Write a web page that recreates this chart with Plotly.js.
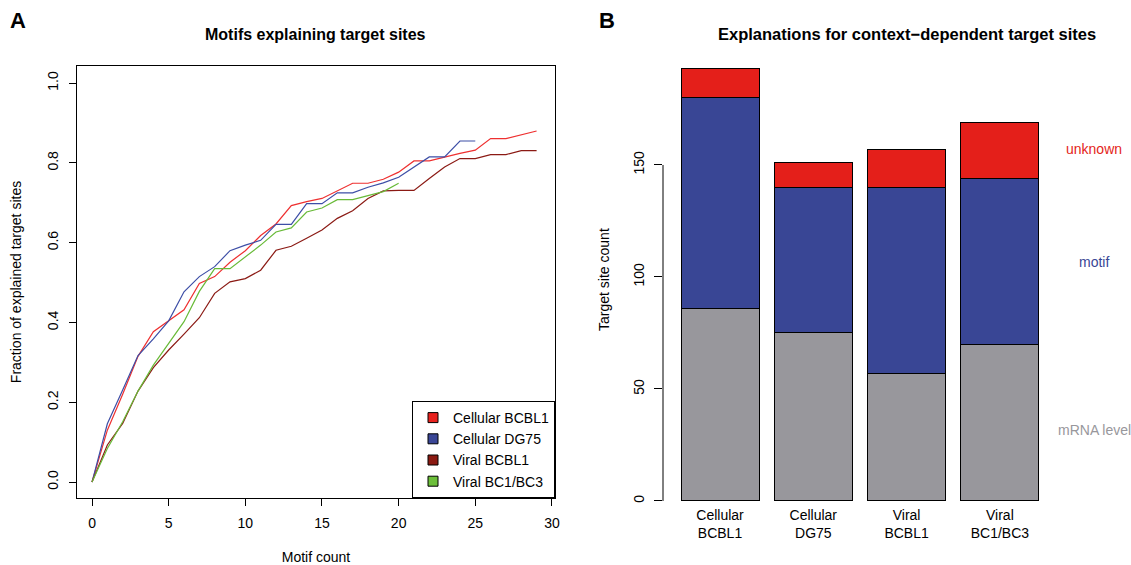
<!DOCTYPE html>
<html>
<head>
<meta charset="utf-8">
<script src="https://cdn.plot.ly/plotly-3.0.1.min.js"></script>
<style>html,body{margin:0;padding:0;background:#fff;}#chart{width:1131px;height:565px;}</style>
</head>
<body>
<div id="chart"></div>
<script>
// ---- Panel A data ----
const motifCountRed = [0,1,2,3,4,5,6,7,8,9,10,11,12,13,14,15,16,17,18,19,20,21,22,23,24,25,26,27,28,29];
const cellularBCBL1 = [0,0.13,0.22,0.315,0.377,0.404,0.432,0.498,0.515,0.551,0.58,0.618,0.647,0.693,0.703,0.711,0.73,0.749,0.749,0.759,0.777,0.805,0.805,0.815,0.824,0.832,0.861,0.861,0.871,0.88];
const motifCountBlue = [0,1,2,3,4,5,6,7,8,9,10,11,12,13,14,15,16,17,18,19,20,21,22,23,24,25];
const cellularDG75 = [0,0.146,0.231,0.317,0.359,0.404,0.477,0.515,0.54,0.58,0.594,0.606,0.646,0.646,0.698,0.698,0.725,0.725,0.739,0.75,0.764,0.79,0.815,0.815,0.855,0.855];
const motifCountDark = [0,1,2,3,4,5,6,7,8,9,10,11,12,13,14,15,16,17,18,19,20,21,22,23,24,25,26,27,28,29];
const viralBCBL1 = [0,0.093,0.147,0.228,0.287,0.331,0.371,0.412,0.473,0.502,0.51,0.531,0.581,0.591,0.611,0.632,0.661,0.68,0.711,0.73,0.731,0.731,0.761,0.79,0.811,0.811,0.821,0.821,0.831,0.831];
const motifCountGreen = [0,1,2,3,4,5,6,7,8,9,10,11,12,13,14,15,16,17,18,19,20];
const viralBC1BC3 = [0,0.084,0.151,0.228,0.293,0.348,0.402,0.478,0.535,0.535,0.564,0.594,0.627,0.637,0.677,0.687,0.708,0.708,0.718,0.728,0.749];
const seriesNames = ["Cellular BCBL1","Cellular DG75","Viral BCBL1","Viral BC1/BC3"];
const xTicksA = [0,5,10,15,20,25,30];
const yTicksA = [0,0.2,0.4,0.6,0.8,1.0];

// ---- Panel B data ----
const groups = ["Cellular<br>BCBL1","Cellular<br>DG75","Viral<br>BCBL1","Viral<br>BC1/BC3"];
const mrnaLevel = [86,75,57,70];
const motif = [94,65,83,74];
const unknown = [13,11,17,25];
const yTicksB = [0,50,100,150];

const FONT = "Liberation Sans, Arial, Helvetica, sans-serif";
const lineCols = ["#EE3030","#3D4EA6","#8B1A14","#68BA38"];
const legCols = ["#E8221E","#3A4696","#8B1A12","#6CBF3A"];

const traces = [
  {x: motifCountRed, y: cellularBCBL1, mode:"lines", line:{color:lineCols[0],width:1.2}, showlegend:false, xaxis:"x", yaxis:"y"},
  {x: motifCountBlue, y: cellularDG75, mode:"lines", line:{color:lineCols[1],width:1.2}, showlegend:false, xaxis:"x", yaxis:"y"},
  {x: motifCountDark, y: viralBCBL1, mode:"lines", line:{color:lineCols[2],width:1.2}, showlegend:false, xaxis:"x", yaxis:"y"},
  {x: motifCountGreen, y: viralBC1BC3, mode:"lines", line:{color:lineCols[3],width:1.2}, showlegend:false, xaxis:"x", yaxis:"y"}
];
seriesNames.forEach((n,i)=>{
  traces.push({x:[null], y:[null], mode:"markers", name:n, marker:{symbol:"square", size:10, color:legCols[i], line:{color:"#000",width:1}}, xaxis:"x", yaxis:"y", showlegend:true});
});
traces.push({type:"bar", x:groups, y:mrnaLevel, name:"mRNA level", marker:{color:"#98979C", line:{color:"#000",width:1}}, xaxis:"x2", yaxis:"y2", showlegend:false});
traces.push({type:"bar", x:groups, y:motif, name:"motif", marker:{color:"#394695", line:{color:"#000",width:1}}, xaxis:"x2", yaxis:"y2", showlegend:false});
traces.push({type:"bar", x:groups, y:unknown, name:"unknown", marker:{color:"#E41F1A", line:{color:"#000",width:1}}, xaxis:"x2", yaxis:"y2", showlegend:false});

const W=1131, H=565;
const px=(v)=>v/W, py=(v)=>(H-v)/H;

const layout = {
  width:W, height:H,
  margin:{l:0,r:0,t:0,b:0},
  paper_bgcolor:"#fff", plot_bgcolor:"#fff",
  font:{family:FONT, size:14, color:"#000"},
  barmode:"stack", bargap:0.164,
  showlegend:true,
  legend:{x:px(555), y:py(498), xanchor:"right", yanchor:"bottom", traceorder:"normal", bordercolor:"#000", borderwidth:1, bgcolor:"#fff", font:{family:FONT,size:14}, tracegroupgap:0, itemwidth:30},
  xaxis:{domain:[px(77),px(555)], range:[-0.98,30.2], tickvals:xTicksA, ticks:"outside", ticklen:7, tickcolor:"#000", showline:true, linecolor:"#000", linewidth:1, mirror:true, showgrid:false, zeroline:false, ticklabelstandoff:5,
    title:{text:"Motif count", font:{size:14}, standoff:23}},
  yaxis:{domain:[py(498),py(66)], range:[-0.04,1.043], tickvals:yTicksA, tickformat:".1f", tickangle:-90, ticks:"outside", ticklen:7, tickcolor:"#000", showline:true, linecolor:"#000", linewidth:1, mirror:true, showgrid:false, zeroline:false, ticklabelstandoff:5,
    title:{text:"Fraction of explained target sites", font:{size:14}, standoff:20}},
  xaxis2:{domain:[px(663),px(1054)], range:[-0.611,3.58], type:"category", ticks:"", showline:false, showgrid:false, zeroline:false, anchor:"y2", ticklabelstandoff:-3},
  yaxis2:{domain:[py(507.7),py(51.4)], range:[-3,200.7], tickvals:yTicksB, tickangle:-90, ticks:"outside", ticklen:8, tickcolor:"#000", showline:false, showgrid:false, zeroline:false, anchor:"x2", ticklabelstandoff:4,
    title:{text:"Target site count", font:{size:14}, standoff:18}},
  shapes:[
    {type:"line", xref:"x2 domain", yref:"y2", x0:0, x1:0, y0:0, y1:150, line:{color:"#000",width:1}}
  ],
  annotations:[
    {text:"<b>A</b>", xref:"paper", yref:"paper", x:px(18), y:py(20), xanchor:"center", yanchor:"middle", showarrow:false, font:{size:22}},
    {text:"<b>B</b>", xref:"paper", yref:"paper", x:px(607), y:py(20), xanchor:"center", yanchor:"middle", showarrow:false, font:{size:22}},
    {text:"<b>Motifs explaining target sites</b>", xref:"paper", yref:"paper", x:px(315), y:py(34), xanchor:"center", yanchor:"middle", showarrow:false, font:{size:16}},
    {text:"<b>Explanations for context\u2212dependent target sites</b>", xref:"paper", yref:"paper", x:px(907), y:py(34), xanchor:"center", yanchor:"middle", showarrow:false, font:{size:16.5}},
    {text:"unknown", xref:"paper", yref:"y2", x:px(1094), y:157, xanchor:"center", yanchor:"middle", showarrow:false, font:{size:14, color:"#E41F1A"}},
    {text:"motif", xref:"paper", yref:"y2", x:px(1094), y:106.7, xanchor:"center", yanchor:"middle", showarrow:false, font:{size:14, color:"#394695"}},
    {text:"mRNA level", xref:"paper", yref:"y2", x:px(1094), y:31.7, xanchor:"center", yanchor:"middle", showarrow:false, font:{size:14, color:"#98979C"}}
  ]
};
Plotly.newPlot("chart", traces, layout, {displayModeBar:false, staticPlot:true});
</script>
</body>
</html>
